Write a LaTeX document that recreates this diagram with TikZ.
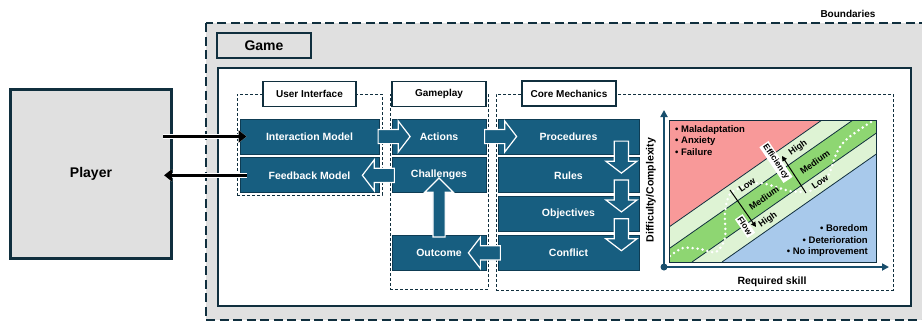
\documentclass[tikz,border=0pt]{standalone}
\usepackage{fontspec}
\setmainfont{Liberation Sans}
\usetikzlibrary{positioning}
\usetikzlibrary{shapes.arrows}
\usetikzlibrary{arrows.meta}
\usetikzlibrary{calc}
\definecolor{navy}{RGB}{16,47,62}
\definecolor{boxblue}{RGB}{23,94,128}
\definecolor{boxedge}{RGB}{14,60,84}
\definecolor{axisblue}{RGB}{24,78,108}
\definecolor{bggray}{RGB}{224,224,224}
\definecolor{zonered}{RGB}{248,153,153}
\definecolor{zonelight}{RGB}{222,243,212}
\definecolor{zonegreen}{RGB}{142,214,114}
\definecolor{zoneblue}{RGB}{168,201,235}
\tikzset{
boundary/.style={ % dashed outer frame
draw=navy, fill=bggray, line width=2.5pt, dash pattern=on 9pt off 4.5pt},
playerbox/.style={draw=navy, fill=bggray, line width=3pt,
minimum width=161pt, minimum height=169pt,
font=\bfseries\fontsize{14}{16}\selectfont},
gametag/.style={draw=navy, fill=bggray, line width=1.3pt, inner sep=0pt,
minimum width=94pt, minimum height=25pt,
font=\bfseries\fontsize{14}{16}\selectfont},
groupbox/.style={ % dashed groups
draw=navy, line width=0.8pt, dash pattern=on 3pt off 2pt, inner sep=0pt},
tagbox/.style={draw=navy, fill=white, line width=1.2pt, inner sep=0pt,
minimum height=25pt, font=\bfseries\fontsize{10}{12}\selectfont},
bluebox/.style={ % model boxes
draw=boxedge, fill=boxblue, line width=0.8pt, text=white, inner sep=0pt,
minimum height=35pt, font=\bfseries\fontsize{10.5}{12}\selectfont},
blockarrow/.style={ % white rimmed block arrows
single arrow, draw=white, fill=boxblue, line width=1.2pt, inner sep=6.5pt,
minimum height=32pt, single arrow head extend=8.5pt, single arrow tip angle=105},
playerarrow/.style={draw=black, line width=3.5pt,
-{Triangle[length=8pt,width=12pt]},
preaction={draw=white, line width=5.5pt}},
plainlabel/.style={font=\bfseries\fontsize{10}{12}\selectfont, inner sep=0pt},
axisline/.style={draw=axisblue, line width=2.5pt,
-{Triangle[length=7pt,width=7pt]}},
bandline/.style={draw=navy, line width=0.8pt},
flowpath/.style={draw=white, line width=2.8pt, line cap=round,
dash pattern=on 0pt off 5pt},
bandlabel/.style={font=\bfseries\fontsize{9}{10}\selectfont, rotate=35, inner sep=0pt},
whitetag/.style={fill=white, inner sep=1.5pt, rotate=-56,
font=\bfseries\fontsize{8.5}{10}\selectfont},
thinarrow/.style={draw=black, line width=1pt,
-{Triangle[length=5pt,width=5pt]}}
}

\begin{document}
\begin{tikzpicture}[x=1pt, y=-1pt]
\useasboundingbox (0,0) rectangle (922,322);

% boundaries and game frame
\draw[boundary] (206,23) rectangle (945,320);
\node[plainlabel] (bndlabel) at (848,14) {Boundaries};
\node[gametag] (gametag) at (264,45.5) {Game};
\node[draw=navy, fill=white, line width=1.5pt, minimum width=693pt, minimum height=238pt] (gamebox) at (564.5,187) {};

% player
\node[playerbox] (player) at (91,174) {Player};

% groups
\node[groupbox, minimum width=145pt, minimum height=101pt] (uigrp) at (309.5,144.5) {};
\node[groupbox, minimum width=98pt, minimum height=195pt] (gpgrp) at (439,191.5) {};
\node[groupbox, minimum width=397pt, minimum height=196pt] (cmgrp) at (694.5,192) {};
\node[tagbox, minimum width=93pt] (uitag) at (uigrp.north) {User Interface};
\node[tagbox, minimum width=94pt] (gptag) at (gpgrp.north) {Gameplay};
\node[tagbox, minimum width=94pt] (cmtag) at (569,93.5) {Core Mechanics};

% model boxes
\node[bluebox, minimum width=139pt] (im) at (309.5,136.5) {Interaction Model};
\node[bluebox, minimum width=139pt, below=3pt of im] (fm) {Feedback Model};
\node[bluebox, minimum width=94pt] (act) at (439,136.5) {Actions};
\node[bluebox, minimum width=94pt, below=3pt of act] (chal) {Challenges};
\node[bluebox, minimum width=141pt] (proc) at (568.5,136.5) {Procedures};
\node[bluebox, minimum width=141pt, below=3pt of proc] (rules) {Rules};
\node[bluebox, minimum width=141pt, below=3pt of rules] (obj) {Objectives};
\node[bluebox, minimum width=141pt, below=3pt of obj] (conf) {Conflict};
\node[bluebox, minimum width=94pt] (out) at (act |- conf) {Outcome};

% block arrows
\node[blockarrow] (im2act) at ([xshift=12pt]im.east) {};
\node[blockarrow] (act2proc) at ([xshift=11.5pt]act.east) {};
\node[blockarrow, shape border rotate=180] (chal2fm) at ([xshift=-10.5pt]chal.west) {};
\node[blockarrow, shape border rotate=180] (conf2out) at ([xshift=-10.5pt]conf.west) {};
\node[blockarrow, shape border rotate=270] (proc2rules) at ([xshift=-18pt]proc.south east) {};
\node[blockarrow, shape border rotate=270] (rules2obj) at ([xshift=-18pt]rules.south east) {};
\node[blockarrow, shape border rotate=270] (obj2conf) at ([xshift=-18pt]obj.south east) {};
\node[blockarrow, shape border rotate=90, minimum height=59pt, inner sep=5.5pt,
single arrow head extend=8pt, single arrow tip angle=90] (out2chal)
at ([yshift=3.5pt]$(chal.south)!0.5!(out.north)$) {};

% player arrows
\draw[playerarrow] ($(player.east |- im.west)+(-10,0)$) -- ([xshift=7pt]im.west);
\draw[playerarrow] ([xshift=7pt]fm.west) -- ($(player.east |- fm.west)+(-9,0)$);

% difficulty chart
\begin{scope}
\clip (669,120) rectangle (876,262);
\fill[zonered] (669,120) rectangle (876,262);
\fill[zonelight] (619,262) -- (822,120) -- (925,120) -- (722,262) -- cycle;
\fill[zonegreen] (650,262) -- (853,120) -- (895,120) -- (692,262) -- cycle;
\fill[zoneblue] (722,262) -- (925,120) -- (925,262) -- cycle;
\foreach \x in {619,650,692,722}
  \draw[bandline] (\x,262) -- ++(203,-142);
\draw[flowpath] plot[smooth] coordinates {(670,256) (683,248) (700,249) (716,252) (725,238) (725,212) (730,194) (745,186) (760,183) (773,186) (790,191) (810,191) (827,178) (837,152) (848,138) (874,120)};
\end{scope}
\draw[navy, line width=0.8pt] (669,120) rectangle (876,262);

\coordinate (origin) at (664,267);
\draw[axisline] (origin) -- (664,110);
\draw[axisline] (origin) -- (889,267);
\fill[axisblue] (origin) circle (3.5pt);
\node[plainlabel, rotate=90, font=\bfseries\fontsize{10.5}{12}\selectfont] (ylab) at (651,190) {Difficulty/Complexity};
\node[plainlabel, font=\bfseries\fontsize{10.5}{12}\selectfont] (xlab) at (772,282) {Required skill};

\node[plainlabel, anchor=north west, align=left, font=\bfseries\fontsize{9.5}{11.7}\selectfont] (hard) at (675,125) {• Maladaptation\\• Anxiety\\• Failure};
\node[plainlabel, anchor=south east, align=right, font=\bfseries\fontsize{9.5}{11.7}\selectfont] (easy) at (868,257) {• Boredom\\• Deterioration\\• No improvement};

% flow and efficiency scales
\draw[thinarrow] (730,190) -- (756,227);
\node[bandlabel] (flowlow) at (747,185) {Low};
\node[bandlabel] (flowmed) at (764,198) {Medium};
\node[bandlabel] (flowhigh) at (768,220) {High};
\node[whitetag] (flowtag) at (745,226) {Flow};
\draw[thinarrow] (806,193) -- (782,156);
\node[bandlabel] (effhigh) at (798,148) {High};
\node[bandlabel] (effmed) at (815,162) {Medium};
\node[bandlabel] (efflow) at (820,182) {Low};
\node[whitetag] (efftag) at (776,162) {Efficiency};
\end{tikzpicture}
\end{document}
